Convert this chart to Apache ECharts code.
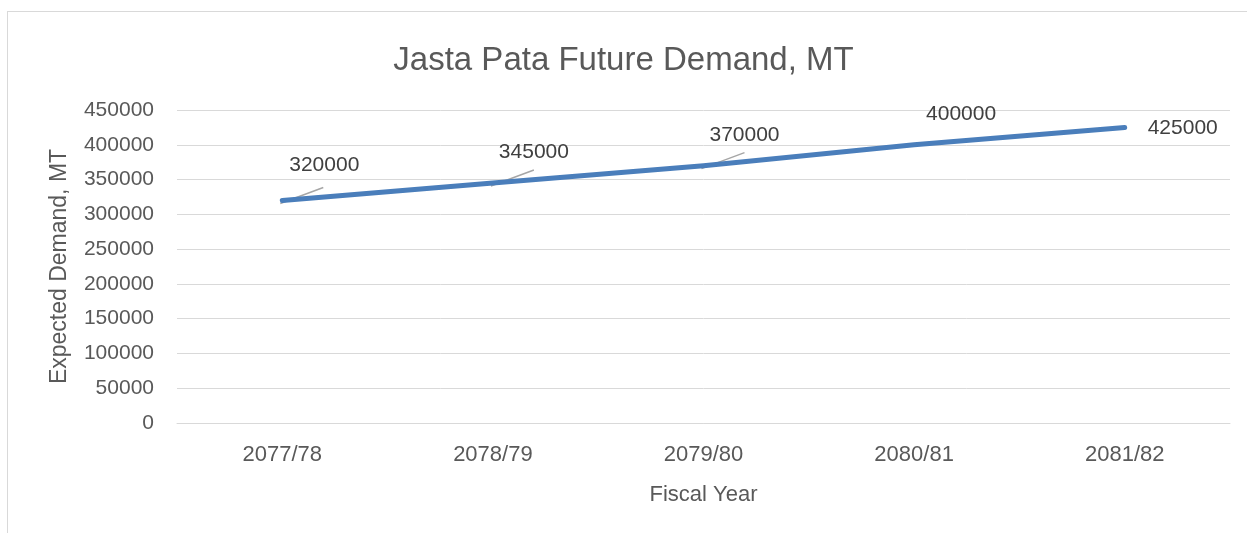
<!DOCTYPE html>
<html>
<head>
<meta charset="utf-8">
<script src="https://cdn.jsdelivr.net/npm/echarts@6/dist/echarts.min.js"></script>
<style>
  html, body { margin: 0; padding: 0; background: #fff; }
  #frame { position: absolute; left: 7px; top: 11px; width: 1245px; height: 540px; border: 1px solid #d9d9d9; box-sizing: border-box; }
  #chart { position: absolute; left: 0; top: 0; width: 1247px; height: 533px; }
</style>
</head>
<body>
<div id="frame"></div>
<div id="chart"></div>
<script>
// fiscal years and demand (MT)
const years = ["2077/78", "2078/79", "2079/80", "2080/81", "2081/82"];
const demand = [320000, 345000, 370000, 400000, 425000];

// label nudges from the default "top" spot, and which labels get a leader line
const labelShift = [[42, -20], [41, -15], [41, -15], [47, -15], [58, 16]];
const leaderShown = [true, true, true, false, false];

const chart = echarts.init(document.getElementById("chart"));
const textColor = "#595959";
const font = "'Liberation Sans', Arial, sans-serif";

chart.setOption({
  animation: false,
  title: {
    text: "Jasta Pata Future Demand, MT",
    left: "center",
    top: 39,
    textStyle: { fontFamily: font, fontSize: 33, fontWeight: "normal", color: textColor }
  },
  grid: { left: 177, right: 17, top: 110, bottom: 110 },
  xAxis: {
    type: "category",
    data: years,
    boundaryGap: true,
    name: "Fiscal Year",
    nameLocation: "middle",
    nameGap: 61,
    nameTextStyle: { fontFamily: font, fontSize: 22, color: textColor },
    axisLine: { lineStyle: { color: "#d9d9d9", width: 1 } },
    axisTick: { show: false },
    axisLabel: { fontFamily: font, fontSize: 22, color: textColor, margin: 21 }
  },
  yAxis: {
    type: "value",
    min: 0,
    max: 450000,
    interval: 50000,
    name: "Expected Demand, MT",
    nameLocation: "middle",
    nameGap: 106,
    nameTextStyle: { fontFamily: font, fontSize: 23, color: textColor },
    axisLine: { show: false },
    axisTick: { show: false },
    axisLabel: { fontFamily: font, fontSize: 21, color: textColor, margin: 23, formatter: (v) => String(v) },
    splitLine: { lineStyle: { color: "#d9d9d9", width: 1 } }
  },
  series: [
    {
      type: "line",
      data: demand,
      symbol: "circle",
      symbolSize: 0,
      itemStyle: { color: "#4a7ebb" },
      lineStyle: { color: "#4a7ebb", width: 5, cap: "round", join: "round" },
      label: {
        show: true,
        position: "top",
        distance: 5,
        fontFamily: font,
        fontSize: 21,
        color: "#404040",
        formatter: (p) => String(p.value)
      },
      labelLayout: (p) => ({ dx: labelShift[p.dataIndex][0], dy: labelShift[p.dataIndex][1] })
    },
    {
      // excel-style leader lines from the point toward its label
      type: "custom",
      z: 3,
      silent: true,
      data: demand.map((v, i) => [i, v]),
      renderItem: (params, api) => {
        const i = params.dataIndex;
        if (!leaderShown[i]) return null;
        const p = api.coord([api.value(0), api.value(1)]);
        return {
          type: "line",
          shape: { x1: p[0] - 2, y1: p[1] + 3, x2: p[0] + 41, y2: p[1] - 13 },
          style: { stroke: "#a6a6a6", lineWidth: 1.5 }
        };
      }
    }
  ]
});
</script>
</body>
</html>
